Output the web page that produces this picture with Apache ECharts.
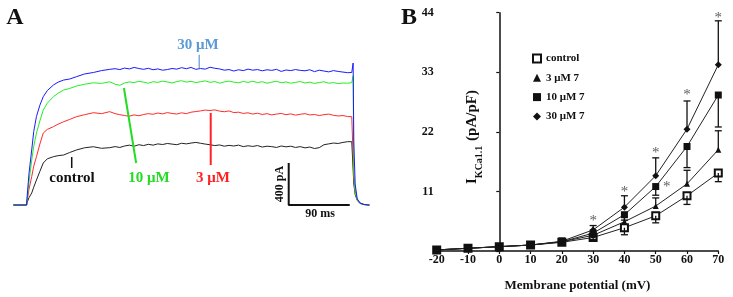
<!DOCTYPE html>
<html>
<head>
<meta charset="utf-8">
<script src="https://cdn.jsdelivr.net/npm/echarts@6/dist/echarts.min.js"></script>
<style>
  html, body { margin: 0; padding: 0; background: #fff; }
  #chart { width: 733px; height: 297px; }
</style>
</head>
<body>
<div id="chart"></div>
<script>
  // ---- panel A: current traces (ms, pA) ----
  const traceTime = [-20, -0.5, 0, 3, 7, 10, 14, 19, 24, 30, 39, 46, 54, 63, 73, 85, 98, 110, 122,
    130, 137, 144, 151, 158, 165, 172, 179, 186, 193,
    200, 207, 214, 221, 228, 235, 242, 249, 256, 263,
    270, 277, 284, 291, 298, 305, 312, 319, 326, 333,
    340, 347, 354, 361, 368, 375, 382, 389, 396, 403,
    410, 417, 424, 431, 438, 445, 452, 459, 466, 473,
    479, 481, 482, 484, 487, 491, 497, 505];
  const traceControl = [0, 0, 20, 70, 114, 170, 238, 320, 400, 440, 460, 470, 476, 500, 524, 545, 555, 540, 546,
    556, 548, 562, 570, 560, 574, 566, 578, 570, 582,
    576, 586, 580, 574, 588, 582, 590, 596, 588, 580,
    574, 566, 572, 560, 568, 562, 570, 556, 564, 558,
    566, 552, 560, 556, 548, 562, 554, 560, 548, 556,
    544, 552, 538, 546, 574, 582, 590, 586, 596, 603,
    603, 600, 200, 100, 45, 15, 4, 0];
  const trace3uM = [0, 0, 30, 150, 270, 370, 460, 580, 685, 720, 746, 770, 793, 815, 841, 860, 879, 870, 889,
    870, 860, 852, 846, 858, 850, 862, 870, 864, 876,
    868, 880, 872, 866, 878, 870, 884, 890, 896, 904,
    900, 906, 894, 888, 896, 880, 884, 872, 878, 866,
    874, 862, 870, 858, 866, 872, 860, 868, 856, 864,
    870, 858, 862, 852, 860, 866, 854, 848, 852, 842,
    841, 845, 260, 130, 55, 20, 5, 0];
  const trace10uM = [0, 0, 40, 220, 428, 560, 685, 800, 904, 970, 1031, 1065, 1095, 1110, 1133, 1150, 1164, 1158, 1174,
    1150, 1140, 1162, 1172, 1166, 1178, 1170, 1160, 1174, 1168,
    1180, 1172, 1162, 1176, 1184, 1170, 1178, 1166, 1174, 1182,
    1168, 1176, 1160, 1172, 1180, 1170, 1164, 1176, 1168, 1178,
    1166, 1174, 1160, 1170, 1178, 1164, 1172, 1160, 1168, 1176,
    1162, 1170, 1158, 1166, 1174, 1160, 1166, 1156, 1162, 1160,
    1165, 1230, 300, 120, 50, 18, 4, 0];
  const trace30uM = [0, 0, 60, 300, 524, 700, 843, 950, 1031, 1090, 1143, 1170, 1190, 1200, 1222, 1248, 1262, 1280, 1292,
    1298, 1290, 1304, 1296, 1310, 1300, 1292, 1302, 1288, 1296,
    1284, 1290, 1300, 1294, 1308, 1298, 1310, 1292, 1300, 1294,
    1312, 1302, 1296, 1284, 1290, 1276, 1288, 1280, 1294, 1284,
    1290, 1278, 1288, 1282, 1292, 1272, 1286, 1280, 1290, 1282,
    1278, 1288, 1270, 1284, 1276, 1268, 1280, 1272, 1266, 1260,
    1262, 1352, 600, 200, 60, 20, 5, 0];

  // label pointers and scale bar (ms, pA)
  const pointer30uM = [[254, 1305], [254, 1430]];
  const pointer10uM = [[143, 1114], [161, 400]];
  const pointer3uM = [[271, 876], [271, 381]];
  const pointerControl = [[66, 457], [66, 352]];
  const scaleBar = [[386, 400], [386, 0], [476, 0]];

  // ---- panel B: I-V relation ----
  const voltages = [-20, -10, 0, 10, 20, 30, 40, 50, 60, 70];
  const controlMean = [0.2, 0.5, 0.8, 1.1, 1.6, 2.5, 4.3, 6.5, 10.2, 14.4];
  const controlSem = [0.1, 0.1, 0.1, 0.1, 0.2, 0.4, 1.3, 1.3, 1.6, 1.6];
  const mean3uM = [0.2, 0.5, 0.8, 1.1, 1.7, 2.9, 5.4, 8.3, 12.4, 18.7];
  const sem3uM = [0.1, 0.1, 0.1, 0.1, 0.2, 0.5, 0.9, 1.5, 2.5, 3.5];
  const mean10uM = [0.2, 0.5, 0.8, 1.1, 1.7, 3.3, 6.7, 11.9, 19.3, 28.8];
  const sem10uM = [0.1, 0.1, 0.1, 0.1, 0.2, 0.6, 1.0, 1.6, 3.9, 5.9];
  const mean30uM = [0.2, 0.5, 0.8, 1.1, 1.8, 3.9, 8.1, 13.9, 22.5, 34.4];
  const sem30uM = [0.1, 0.1, 0.1, 0.1, 0.6, 0.8, 2.1, 3.3, 5.2, 8.1];
  // significance marks (mV, pA/pF)
  const stars = [[30, 6.0], [40, 11.4], [50, 18.6], [60, 29.3], [70, 43.6], [53.5, 12.4]];

  const serif = '"Liberation Serif", "DejaVu Serif", serif';
  const chart = echarts.init(document.getElementById('chart'));

  function trace(name, values, color) {
    return {
      name: name, type: 'line', xAxisIndex: 0, yAxisIndex: 0,
      data: traceTime.map((t, i) => [t, values[i]]),
      showSymbol: false, silent: true,
      lineStyle: { color: color, width: 1 }
    };
  }
  function segment(points, color, width) {
    return {
      type: 'line', xAxisIndex: 0, yAxisIndex: 0, data: points,
      showSymbol: false, silent: true,
      lineStyle: { color: color, width: width }
    };
  }
  function ivLine(name, means, symbol, size) {
    return {
      name: name, type: 'line', xAxisIndex: 1, yAxisIndex: 1,
      data: voltages.map((v, i) => [v, means[i]]),
      symbol: symbol, symbolSize: size,
      itemStyle: { color: '#111', borderColor: '#111', borderWidth: symbol === 'emptyRect' ? 1.3 : 0 },
      lineStyle: { color: '#222', width: 1 },
      z: 3
    };
  }
  function errorBars(means, sems, dir) {
    return {
      type: 'custom', xAxisIndex: 1, yAxisIndex: 1, silent: true, z: 4,
      data: voltages.map((v, i) => [v, means[i], sems[i]]),
      renderItem: function (params, api) {
        const p0 = api.coord([api.value(0), api.value(1)]);
        const p1 = api.coord([api.value(0), api.value(1) + dir * api.value(2)]);
        const style = { stroke: '#111', lineWidth: 1.3 };
        return {
          type: 'group',
          children: [
            { type: 'line', shape: { x1: p0[0], y1: p0[1], x2: p1[0], y2: p1[1] }, style: style },
            { type: 'line', shape: { x1: p1[0] - 3.5, y1: p1[1], x2: p1[0] + 3.5, y2: p1[1] }, style: style }
          ]
        };
      }
    };
  }

  const labelFont = 'bold 15px ' + serif;
  const option = {
    animation: false,
    grid: [
      { left: 13.4, width: 356, top: 5.5, height: 220.5 },
      { left: 436.7, right: 14.7, top: 12.7, bottom: 41.3 }
    ],
    xAxis: [
      { gridIndex: 0, type: 'value', min: -20, max: 505, show: false },
      {
        gridIndex: 1, type: 'value', min: -20, max: 70, interval: 10,
        name: 'Membrane potential (mV)', nameLocation: 'middle', nameGap: 28,
        nameTextStyle: { fontFamily: serif, fontWeight: 'bold', fontSize: 13, color: '#111' },
        axisLine: { lineStyle: { color: '#111', width: 1.5 } },
        axisTick: { length: 3, lineStyle: { color: '#111', width: 1.2 } },
        axisLabel: { fontFamily: serif, fontWeight: 'bold', fontSize: 12, color: '#111', margin: 3 },
        splitLine: { show: false }
      }
    ],
    yAxis: [
      { gridIndex: 0, type: 'value', min: -200, max: 1900, show: false },
      {
        gridIndex: 1, type: 'value', min: 0, max: 44, interval: 11,
        axisLine: { onZero: true, lineStyle: { color: '#111', width: 1.5 } },
        axisTick: { length: 3, lineStyle: { color: '#111', width: 1.2 } },
        axisLabel: {
          fontFamily: serif, fontWeight: 'bold', fontSize: 12, color: '#111', margin: 3,
          formatter: v => (v === 0 ? '' : v)
        },
        splitLine: { show: false }
      }
    ],
    legend: {
      orient: 'vertical', left: 527, top: 48, itemGap: 8.3,
      itemWidth: 8, itemHeight: 8, itemTextGap: 7,
      textStyle: { fontFamily: serif, fontWeight: 'bold', fontSize: 11, color: '#111' },
      data: [
        { name: 'control', icon: 'emptyRect' },
        { name: '3 μM 7', icon: 'triangle' },
        { name: '10 μM 7', icon: 'rect' },
        { name: '30 μM 7', icon: 'diamond' }
      ]
    },
    graphic: [
      { type: 'text', x: 15, y: 18, style: { text: 'A', font: 'bold 24px ' + serif, fill: '#111', align: 'center', verticalAlign: 'middle' } },
      { type: 'text', x: 409, y: 18, style: { text: 'B', font: 'bold 24px ' + serif, fill: '#111', align: 'center', verticalAlign: 'middle' } },
      { type: 'text', x: 198, y: 45, style: { text: '30 μM', font: labelFont, fill: '#5b9bd5', align: 'center', verticalAlign: 'middle' } },
      { type: 'text', x: 149, y: 178, style: { text: '10 μM', font: labelFont, fill: '#22dd22', align: 'center', verticalAlign: 'middle' } },
      { type: 'text', x: 213, y: 178, style: { text: '3 μM', font: labelFont, fill: '#ff2222', align: 'center', verticalAlign: 'middle' } },
      { type: 'text', x: 72, y: 178, style: { text: 'control', font: labelFont, fill: '#111', align: 'center', verticalAlign: 'middle' } },
      { type: 'text', x: 280, y: 184, rotation: Math.PI / 2, style: { text: '400 pA', font: 'bold 12px ' + serif, fill: '#111', align: 'center', verticalAlign: 'middle' } },
      { type: 'text', x: 320, y: 214, style: { text: '90 ms', font: 'bold 12px ' + serif, fill: '#111', align: 'center', verticalAlign: 'middle' } },
      {
        type: 'text', x: 470, y: 137, rotation: Math.PI / 2,
        style: {
          text: '{m|I}{s|KCa1.1}{m| (pA/pF)}', align: 'center', verticalAlign: 'middle',
          rich: {
            m: { fontFamily: serif, fontWeight: 'bold', fontSize: 15, fill: '#111', lineHeight: 20, verticalAlign: 'bottom' },
            s: { fontFamily: serif, fontWeight: 'bold', fontSize: 10, fill: '#111', lineHeight: 20, verticalAlign: 'bottom', padding: [0, 1, -4, 0] }
          }
        }
      }
    ],
    series: [
      trace('control trace', traceControl, '#222222'),
      trace('3 μM trace', trace3uM, '#ff2a2a'),
      trace('10 μM trace', trace10uM, '#22ee22'),
      trace('30 μM trace', trace30uM, '#1a1aff'),
      segment(pointer30uM, '#5b9bd5', 1.2),
      segment(pointer10uM, '#22dd22', 2),
      segment(pointer3uM, '#ff2222', 2),
      segment(pointerControl, '#111', 1.5),
      segment(scaleBar, '#111', 2),
      ivLine('control', controlMean, 'emptyRect', 7),
      ivLine('3 μM 7', mean3uM, 'triangle', 6),
      ivLine('10 μM 7', mean10uM, 'rect', 7),
      ivLine('30 μM 7', mean30uM, 'diamond', 7),
      errorBars(controlMean, controlSem, -1),
      errorBars(mean3uM, sem3uM, 1),
      errorBars(mean10uM, sem10uM, -1),
      errorBars(mean30uM, sem30uM, 1),
      {
        type: 'scatter', xAxisIndex: 1, yAxisIndex: 1, silent: true, z: 5,
        data: stars, symbolSize: 0,
        label: { show: true, position: 'inside', formatter: '*', fontFamily: serif, fontSize: 15, color: '#333', offset: [0, 3] }
      }
    ]
  };
  chart.setOption(option);
</script>
</body>
</html>
